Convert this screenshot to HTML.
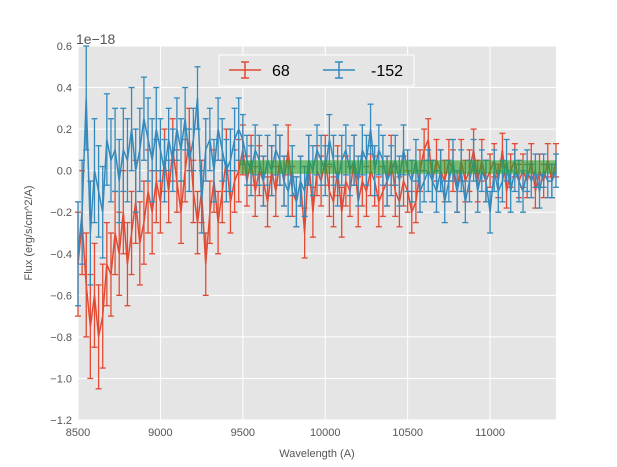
<!DOCTYPE html>
<html><head><meta charset="utf-8"><style>
body{margin:0;background:#fff;}
svg{display:block;font-family:"Liberation Sans",sans-serif;}
</style></head><body>
<svg id="chart" width="617" height="467"></svg>
<script>
const xStart = 8500, xStep = 25;
const redValues = [-0.45,-0.25,-0.55,-0.75,-0.6,-0.8,-0.7,-0.45,-0.5,-0.3,
-0.4,-0.2,-0.45,-0.3,-0.15,-0.35,-0.25,-0.1,-0.2,-0.05,
-0.15,0.05,-0.1,0.1,-0.05,-0.2,0.0,0.15,-0.1,-0.25,
-0.1,-0.45,-0.2,-0.05,-0.25,-0.1,0.05,-0.15,-0.05,0.0,
0.1,-0.05,0.05,-0.1,0.0,-0.05,-0.15,0.0,-0.1,0.05,
-0.05,0.1,-0.1,-0.15,-0.05,-0.3,0.05,-0.2,0.0,-0.05,
0.05,-0.1,-0.15,0.0,-0.2,-0.05,-0.1,0.05,-0.15,-0.05,
-0.1,0.0,-0.05,-0.15,-0.1,-0.05,0.05,-0.1,-0.15,-0.05,
-0.1,-0.2,-0.15,0.0,0.1,0.15,-0.05,0.05,0.0,-0.05,
0.05,0.0,-0.1,0.05,-0.05,0.0,0.1,-0.05,0.05,-0.05,
0.0,0.05,-0.05,0.1,-0.1,0.0,0.05,-0.05,0.0,-0.05,
0.05,-0.1,0.0,-0.05,0.05,-0.05,0.05];
const blueValues = [-0.4,-0.2,0.35,-0.3,0.0,-0.1,-0.2,0.15,0.05,0.1,
-0.05,0.1,0.05,0.2,0.0,0.1,0.25,0.15,0.05,0.2,
0.1,0.0,0.15,0.05,0.2,0.1,0.25,0.05,0.15,0.35,
-0.15,0.1,0.15,0.0,0.2,0.1,0.0,0.05,0.15,0.2,
0.15,0.05,0.0,0.1,0.05,-0.05,0.05,0.0,0.1,0.05,
-0.05,-0.1,0.0,-0.15,-0.05,-0.1,0.05,0.0,0.1,0.05,
0.0,0.15,0.05,-0.05,0.05,0.1,0.0,0.05,-0.05,0.1,
0.05,0.2,0.0,0.1,0.05,-0.05,0.0,0.05,-0.05,0.1,
0.0,-0.05,0.05,-0.1,-0.05,0.0,-0.05,-0.1,0.0,-0.15,
-0.05,0.05,-0.1,0.0,-0.15,-0.05,0.05,-0.1,0.0,-0.05,
-0.2,0.0,-0.1,-0.05,0.05,-0.1,0.0,-0.05,-0.1,0.0,
-0.05,0.0,-0.1,0.0,-0.05,-0.05,0.0];
const redErr = [0.25,0.25,0.25,0.25,0.25,0.25,0.25,0.2,0.2,0.2,
0.2,0.2,0.2,0.2,0.2,0.2,0.2,0.2,0.2,0.2,
0.15,0.15,0.15,0.15,0.15,0.15,0.15,0.15,0.15,0.15,
0.15,0.15,0.15,0.15,0.15,0.15,0.15,0.15,0.15,0.15,
0.12,0.12,0.12,0.12,0.12,0.12,0.12,0.12,0.12,0.12,
0.12,0.12,0.12,0.12,0.12,0.12,0.12,0.12,0.12,0.12,
0.12,0.12,0.12,0.12,0.12,0.12,0.12,0.12,0.12,0.12,
0.12,0.12,0.12,0.12,0.12,0.12,0.12,0.12,0.12,0.12,
0.1,0.1,0.1,0.1,0.1,0.1,0.1,0.1,0.1,0.1,
0.1,0.1,0.1,0.1,0.1,0.1,0.1,0.1,0.1,0.1,
0.08,0.08,0.08,0.08,0.08,0.08,0.08,0.08,0.08,0.08,
0.08,0.08,0.08,0.08,0.08,0.08,0.08];
const blueErr = [0.25,0.25,0.25,0.25,0.25,0.22,0.22,0.22,0.2,0.2,
0.2,0.2,0.2,0.2,0.2,0.2,0.2,0.2,0.2,0.2,
0.15,0.15,0.15,0.15,0.15,0.15,0.15,0.15,0.15,0.15,
0.15,0.15,0.15,0.15,0.15,0.15,0.15,0.15,0.15,0.15,
0.12,0.12,0.12,0.12,0.12,0.12,0.12,0.12,0.12,0.12,
0.12,0.12,0.12,0.12,0.12,0.12,0.12,0.12,0.12,0.12,
0.12,0.12,0.12,0.12,0.12,0.12,0.12,0.12,0.12,0.12,
0.12,0.12,0.12,0.12,0.12,0.12,0.12,0.12,0.12,0.12,
0.1,0.1,0.1,0.1,0.1,0.1,0.1,0.1,0.1,0.1,
0.1,0.1,0.1,0.1,0.1,0.1,0.1,0.1,0.1,0.1,
0.1,0.1,0.1,0.1,0.1,0.1,0.1,0.1,0.1,0.1,
0.08,0.08,0.08,0.08,0.08,0.08,0.08];
const xTicks = [8500,9000,9500,10000,10500,11000];
const xTickLabels = ["8500","9000","9500","10000","10500","11000"];
const yTicks = [0.6,0.4,0.2,0.0,-0.2,-0.4,-0.6,-0.8,-1.0,-1.2];
const yTickLabels = ["0.6","0.4","0.2","0.0","\u22120.2","\u22120.4","\u22120.6","\u22120.8","\u22121.0","\u22121.2"];
const bandX = [9480,11400];
const bandY = [0.05,-0.015];

const L=78,R=556,T=46,B=420;
const xMin=8500,xMax=11400,yMin=-1.2,yMax=0.6;
const sx=v=>L+(v-xMin)/(xMax-xMin)*(R-L);
const sy=v=>B-(v-yMin)/(yMax-yMin)*(B-T);
const NS="http://www.w3.org/2000/svg";
const svg=document.getElementById('chart');
function mk(tag,attrs,parent){const e=document.createElementNS(NS,tag);for(const k in attrs)e.setAttribute(k,attrs[k]);(parent||svg).appendChild(e);return e;}

const bg=mk('rect',{x:L,y:T,width:R-L,height:B-T,fill:'#e5e5e5'});


const grid=mk('g',{stroke:'#fff','stroke-width':1});


xTicks.forEach(v=>mk('line',{x1:sx(v),x2:sx(v),y1:T,y2:B},grid));
yTicks.forEach(v=>mk('line',{x1:L,x2:R,y1:sy(v),y2:sy(v)},grid));

function series(vals,errs,color,name){
  const g=mk('g',{stroke:color,'stroke-width':1.3,fill:'none'});
  
  
  let d='';
  vals.forEach((v,i)=>{
    const x=sx(xStart+i*xStep);
    const e=errs[i];
    const y1=sy(v+e),y2=sy(v-e);
    mk('line',{x1:x,x2:x,y1:y1,y2:y2},g);
    mk('line',{x1:x-3,x2:x+3,y1:y1,y2:y1},g);
    mk('line',{x1:x-3,x2:x+3,y1:y2,y2:y2},g);
    d+=(i?'L':'M')+x.toFixed(1)+','+sy(v).toFixed(1);
  });
  mk('path',{d:d,'stroke-width':1.5},g);
}
series(redValues,redErr,'#e24a33','series-68');
series(blueValues,blueErr,'#348abd','series-minus-152');

const band=mk('rect',{x:sx(bandX[0]),y:sy(bandY[0]),width:sx(bandX[1])-sx(bandX[0]),height:sy(bandY[1])-sy(bandY[0]),fill:'#2ca02c','fill-opacity':0.6});



const xt=mk('g',{fill:'#555','font-size':11,'text-anchor':'middle'});


xTicks.forEach((v,i)=>{const t=mk('text',{x:sx(v),y:B+16},xt);t.textContent=xTickLabels[i];});
const yt=mk('g',{fill:'#555','font-size':11,'text-anchor':'end'});


yTicks.forEach((v,i)=>{const t=mk('text',{x:L-6,y:sy(v)+4},yt);t.textContent=yTickLabels[i];});
</script>
<svg width="617" height="467" style="position:absolute;left:0;top:0;font-family:'Liberation Sans',sans-serif">
<text x="76" y="44" font-size="14" fill="#555">1e−18</text>
<text x="317" y="457" font-size="11" fill="#555" text-anchor="middle">Wavelength (A)</text>
<text transform="translate(32,233) rotate(-90)" font-size="11" fill="#555" text-anchor="middle">Flux (erg/s/cm^2/A)</text>
<g>
<rect x="219" y="55" width="195" height="31" fill="#e5e5e5" stroke="#fff" stroke-width="1"/>
<g stroke="#e24a33" stroke-width="1.5">
<line x1="229" x2="261" y1="70" y2="70"/><line x1="245" x2="245" y1="62" y2="78"/>
<line x1="241" x2="249" y1="62" y2="62"/><line x1="241" x2="249" y1="78" y2="78"/>
</g>
<text x="272" y="76" font-size="16" fill="#000">68</text>
<g stroke="#348abd" stroke-width="1.5">
<line x1="323" x2="355" y1="70" y2="70"/><line x1="339" x2="339" y1="62" y2="78"/>
<line x1="335" x2="343" y1="62" y2="62"/><line x1="335" x2="343" y1="78" y2="78"/>
</g>
<text x="371" y="76" font-size="16" fill="#000">-152</text>
</g>
</svg>
</body></html>
